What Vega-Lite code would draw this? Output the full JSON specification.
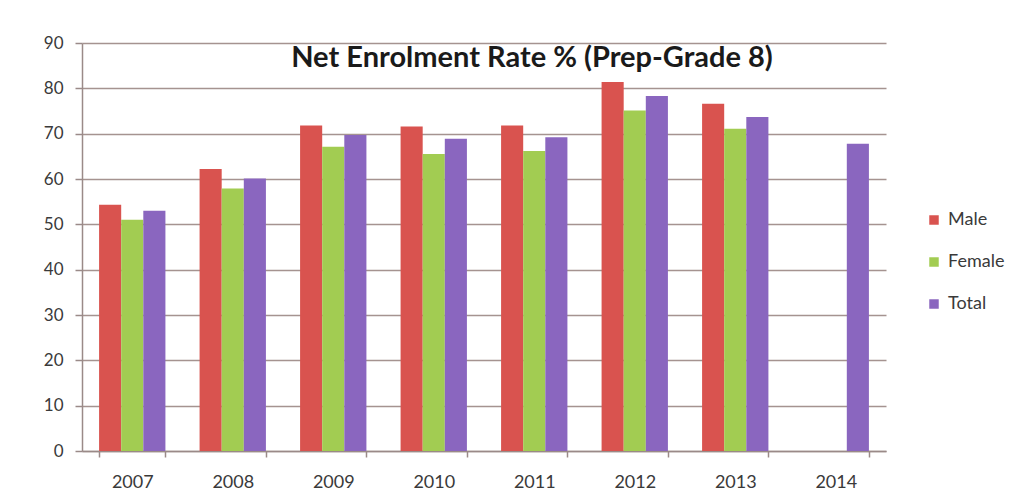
{
  "$schema": "https://vega.github.io/schema/vega-lite/v6.json",
  "autosize": {"type": "none"},
  "padding": {"left": 82, "top": 43, "right": 140, "bottom": 52},
  "width": 804,
  "height": 408,
  "background": "#ffffff",
  "title": {
    "text": "Net Enrolment Rate % (Prep-Grade 8)",
    "font": "Lato",
    "fontSize": 29,
    "fontWeight": "bold",
    "color": "#1a1a1a",
    "anchor": "middle",
    "baseline": "middle",
    "offset": -15,
    "dy": 38,
    "dx": 48
  },
  "data": {
    "values": [
      {"year": "2007", "group": "Male", "rate": 54.3},
      {"year": "2007", "group": "Female", "rate": 51.0},
      {"year": "2007", "group": "Total", "rate": 53.0},
      {"year": "2008", "group": "Male", "rate": 62.2},
      {"year": "2008", "group": "Female", "rate": 57.9},
      {"year": "2008", "group": "Total", "rate": 60.1},
      {"year": "2009", "group": "Male", "rate": 71.8},
      {"year": "2009", "group": "Female", "rate": 67.1},
      {"year": "2009", "group": "Total", "rate": 69.7},
      {"year": "2010", "group": "Male", "rate": 71.6},
      {"year": "2010", "group": "Female", "rate": 65.5},
      {"year": "2010", "group": "Total", "rate": 68.9},
      {"year": "2011", "group": "Male", "rate": 71.8},
      {"year": "2011", "group": "Female", "rate": 66.2},
      {"year": "2011", "group": "Total", "rate": 69.2},
      {"year": "2012", "group": "Male", "rate": 81.4},
      {"year": "2012", "group": "Female", "rate": 75.1},
      {"year": "2012", "group": "Total", "rate": 78.3},
      {"year": "2013", "group": "Male", "rate": 76.6},
      {"year": "2013", "group": "Female", "rate": 71.1},
      {"year": "2013", "group": "Total", "rate": 73.7},
      {"year": "2014", "group": "Total", "rate": 67.8}
    ]
  },
  "mark": {"type": "bar"},
  "encoding": {
    "x": {
      "field": "year",
      "type": "nominal",
      "sort": ["2007", "2008", "2009", "2010", "2011", "2012", "2013", "2014"],
      "scale": {"paddingInner": 0.34, "paddingOuter": 0.17},
      "axis": {
        "title": null,
        "labelAngle": 0,
        "labelFont": "Lato",
        "labelFontSize": 18,
        "labelColor": "#3a3a3a",
        "labelPadding": 16,
        "tickBand": "extent",
        "tickSize": 6,
        "tickColor": "#9a8a88",
        "tickWidth": 1.5,
        "domainColor": "#9a8a88",
        "domainWidth": 1.5,
        "grid": false
      }
    },
    "xOffset": {
      "field": "group",
      "type": "nominal",
      "sort": ["Male", "Female", "Total"],
      "scale": {"domain": ["Male", "Female", "Total"], "paddingInner": 0, "paddingOuter": 0}
    },
    "y": {
      "field": "rate",
      "type": "quantitative",
      "scale": {"domain": [0, 90], "nice": false},
      "axis": {
        "title": null,
        "values": [0, 10, 20, 30, 40, 50, 60, 70, 80, 90],
        "labelFont": "Lato",
        "labelFontSize": 17,
        "labelColor": "#3a3a3a",
        "labelPadding": 12,
        "tickSize": 7,
        "tickColor": "#9a8a88",
        "tickWidth": 1.5,
        "domainColor": "#9a8a88",
        "domainWidth": 1.5,
        "grid": true,
        "gridColor": "#a59390",
        "gridWidth": 1.5
      }
    },
    "color": {
      "field": "group",
      "type": "nominal",
      "sort": ["Male", "Female", "Total"],
      "scale": {"domain": ["Male", "Female", "Total"], "range": ["#d9534f", "#a2cc52", "#8a66bf"]},
      "legend": {
        "title": null,
        "orient": "none",
        "legendX": 843,
        "legendY": 168,
        "symbolType": "square",
        "symbolSize": 90,
        "labelFont": "Lato",
        "labelFontSize": 18,
        "labelColor": "#3a3a3a",
        "rowPadding": 24,
        "labelOffset": 5
      }
    }
  },
  "config": {
    "view": {"stroke": null}
  }
}
